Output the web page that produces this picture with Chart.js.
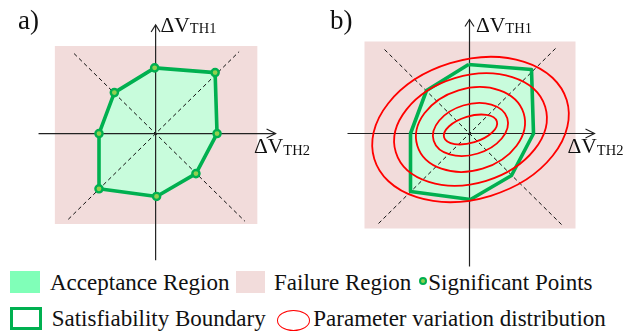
<!DOCTYPE html>
<html><head><meta charset="utf-8">
<script src="https://cdn.jsdelivr.net/npm/chart.js@4.4.0/dist/chart.umd.min.js"></script>
<style>
html,body{margin:0;padding:0;background:#fff;}
body{width:634px;height:332px;position:relative;overflow:hidden;font-family:"Liberation Serif",serif;color:#111;}
.abs{position:absolute;white-space:nowrap;line-height:1;font-family:"Liberation Serif",serif;}
.panel{position:absolute;top:0;width:317px;height:270px;}
.ttl{font-size:27px;}
.ax{font-size:21.5px;}
.sub{font-size:14.5px;position:relative;top:1.5px;font-family:"Liberation Serif",serif;}
.txt{font-size:23px;font-family:"Liberation Serif",serif;}
</style></head><body>
<div class="panel" style="left:0"><canvas id="ca" width="317" height="270"></canvas></div>
<div class="panel" style="left:317px"><canvas id="cb" width="317" height="270"></canvas></div>

<div class="abs ttl" style="left:18px;top:7.4px">a)</div>
<div class="abs ttl" style="left:330px;top:7.4px">b)</div>
<div class="abs ax" style="left:160.5px;top:14.7px">ΔV<span class="sub">TH1</span></div>
<div class="abs ax" style="left:254px;top:136.3px">ΔV<span class="sub">TH2</span></div>
<div class="abs ax" style="left:476px;top:14.7px">ΔV<span class="sub">TH1</span></div>
<div class="abs ax" style="left:567.5px;top:136.3px">ΔV<span class="sub">TH2</span></div>

<div class="abs" style="left:10px;top:271px;width:30px;height:22px;background:#80ffb8"></div>
<div class="abs txt" style="left:50px;top:270.7px">Acceptance Region</div>
<div class="abs" style="left:236px;top:271px;width:29px;height:22px;background:#f2dcdb"></div>
<div class="abs txt" style="left:274px;top:270.7px">Failure Region</div>
<div class="abs" style="left:419px;top:277px;width:4px;height:4px;border:2px solid #00b050;background:#92d050;border-radius:50%"></div>
<div class="abs txt" style="left:428.3px;top:270.7px">Significant Points</div>
<div class="abs" style="left:10px;top:307px;width:32px;height:23px;border:3px solid #00b050;box-sizing:border-box"></div>
<div class="abs txt" style="left:51.7px;top:306.7px">Satisfiability Boundary</div>
<div class="abs" style="left:277px;top:309.5px;width:33px;height:21px;border:1.5px solid #ff0000;box-sizing:border-box;border-radius:50%"></div>
<div class="abs txt" style="left:313.3px;top:306.7px">Parameter variation distribution</div>

<script>
// ---- data (units: ΔV, origin at axes crossing) ----
const failRegionX = [-105, 106];
const failRegionY = [-95, 92];
const axisXExtent = [-122, 125];
const axisYExtent = [-133, 114];
const diag1X = [-85, 93];
const diag1Y = [84, -92];
const diag2X = [-91, 87];
const diag2Y = [-90, 86];
// Satisfiability boundary vertices = significant points
const boundaryX = [-1, 62, 64, 42, 1, -59, -59, -43];
const boundaryY = [69, 64, 0, -42, -66, -58, 0, 43];
// Parameter variation distribution (concentric rotated ellipses)
const ellipseMajor = [27.6, 38.5, 55.6, 78.1, 100.6];
const ellipseMinor = [13.2, 25.1, 41, 53.7, 69.3];
const ellipseAngleDeg = 17;
const ellipseCenter = [1, 4];

const GREEN = '#00b050', LIGHTGREEN = '#92d050', MINT = '#c8fcdc', PINK = '#f2dcdb', RED = '#ff0000';

function pts(xs, ys) { return xs.map((v, i) => ({x: v, y: ys[i]})); }
const closedBoundary = pts(boundaryX.concat([boundaryX[0]]), boundaryY.concat([boundaryY[0]]));
const failRect = pts(
  [failRegionX[0], failRegionX[1], failRegionX[1], failRegionX[0], failRegionX[0]],
  [failRegionY[1], failRegionY[1], failRegionY[0], failRegionY[0], failRegionY[1]]);

const overlay = {
  id: 'overlay',
  afterDatasetsDraw(chart, args, opts) {
    const {ctx} = chart; const x = chart.scales.x, y = chart.scales.y;
    ctx.save();
    ctx.strokeStyle = '#222'; ctx.lineWidth = 1.2;
    const tx = x.getPixelForValue(axisXExtent[1]), ty = y.getPixelForValue(0);
    ctx.beginPath(); ctx.moveTo(tx - 9, ty - 4.5); ctx.lineTo(tx, ty); ctx.lineTo(tx - 9, ty + 4.5); ctx.stroke();
    const vx = x.getPixelForValue(0), vy = y.getPixelForValue(axisYExtent[1]);
    ctx.beginPath(); ctx.moveTo(vx - 4.5, vy + 7); ctx.lineTo(vx, vy); ctx.lineTo(vx + 4.5, vy + 7); ctx.stroke();
    if (opts && opts.ellipses) {
      const cx = x.getPixelForValue(ellipseCenter[0]), cy = y.getPixelForValue(ellipseCenter[1]);
      const kx = Math.abs(x.getPixelForValue(1) - x.getPixelForValue(0));
      const ky = Math.abs(y.getPixelForValue(1) - y.getPixelForValue(0));
      ctx.strokeStyle = RED; ctx.lineWidth = 1.8;
      ellipseMajor.forEach((a, i) => {
        ctx.beginPath();
        ctx.ellipse(cx, cy, a * kx, ellipseMinor[i] * ky, -ellipseAngleDeg * Math.PI / 180, 0, 2 * Math.PI);
        ctx.stroke();
      });
    }
    ctx.restore();
  }
};

function makePanel(id, xmin, withPoints, withEllipses) {
  const ds = [];
  ds.push({data: withPoints ? pts(boundaryX, boundaryY) : [], showLine: false, pointRadius: 3.6,
    pointBorderWidth: 2.4, pointBackgroundColor: LIGHTGREEN, pointBorderColor: GREEN});
  ds.push({data: closedBoundary, showLine: true, borderColor: GREEN, borderWidth: 3.6, pointRadius: 0, fill: false, borderJoinStyle: 'round'});
  ds.push({data: pts(axisXExtent, [0, 0]), showLine: true, borderColor: '#222', borderWidth: 1.2, pointRadius: 0});
  ds.push({data: pts([0, 0], axisYExtent), showLine: true, borderColor: '#222', borderWidth: 1.2, pointRadius: 0});
  ds.push({data: pts(diag1X, diag1Y), showLine: true, borderColor: '#111', borderWidth: 1, borderDash: [4, 3], pointRadius: 0});
  ds.push({data: pts(diag2X, diag2Y), showLine: true, borderColor: '#111', borderWidth: 1, borderDash: [4, 3], pointRadius: 0});
  ds.push({data: closedBoundary, showLine: true, borderWidth: 0, borderColor: 'rgba(0,0,0,0)', backgroundColor: MINT, fill: 'shape', pointRadius: 0});
  ds.push({data: failRect, showLine: true, borderWidth: 0, borderColor: 'rgba(0,0,0,0)', backgroundColor: PINK, fill: 'shape', pointRadius: 0});
  return new Chart(document.getElementById(id), {
    type: 'scatter',
    data: {datasets: ds},
    options: {
      responsive: false, animation: false, devicePixelRatio: 1, events: [],
      layout: {padding: 0},
      scales: {
        x: {type: 'linear', display: false, min: xmin, max: xmin + 317},
        y: {type: 'linear', display: false, min: -136.5, max: 133.5}
      },
      plugins: {legend: {display: false}, tooltip: {enabled: false}, overlay: {ellipses: withEllipses}}
    },
    plugins: [overlay]
  });
}
makePanel('ca', -155.5, true, false);
makePanel('cb', -152.5, false, true);
</script>
</body></html>
